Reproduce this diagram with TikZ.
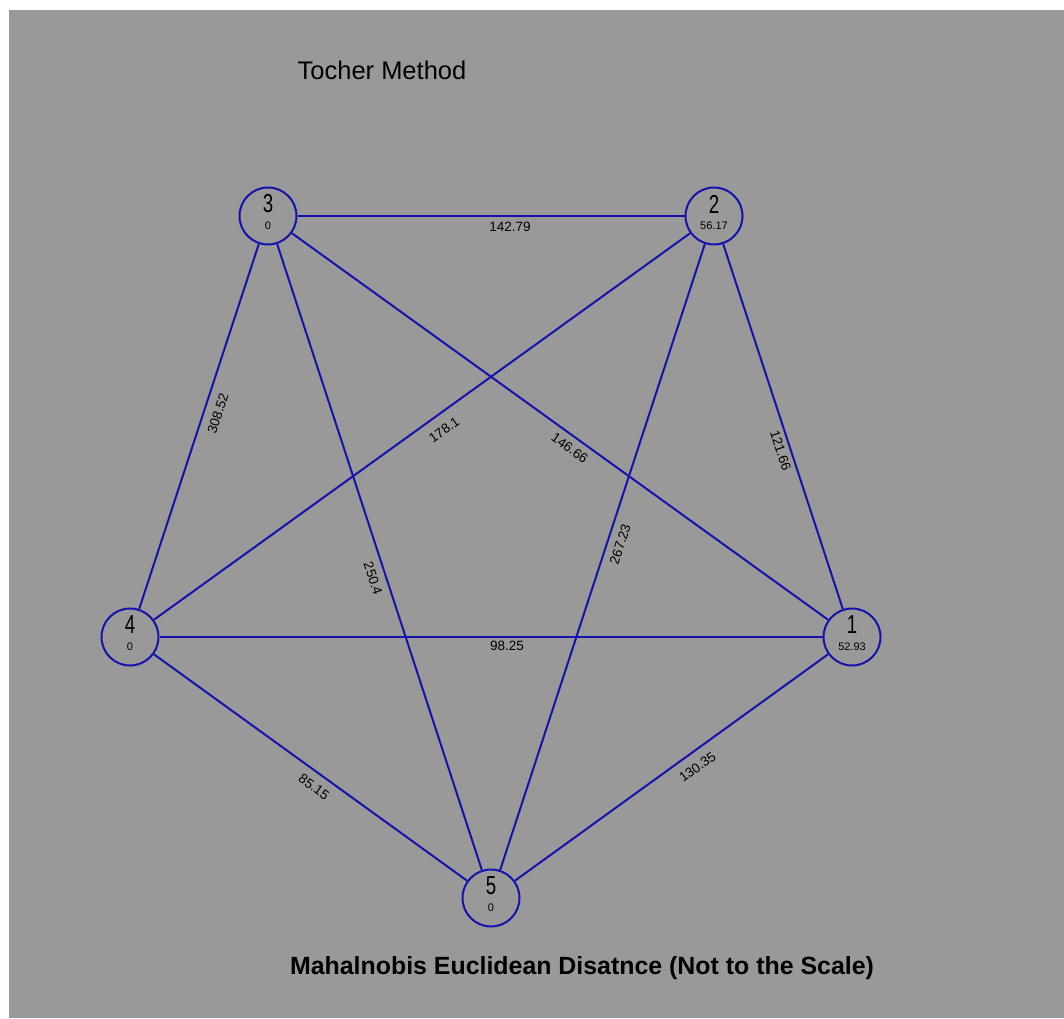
\documentclass[tikz,border=0pt]{standalone}
\usepackage{fontspec}
\usepackage{graphicx}
\setmainfont{Liberation Sans}
\definecolor{bggray}{RGB}{153,153,153}
\definecolor{edgeblue}{RGB}{20,20,172}
\begin{document}
\begin{tikzpicture}[x=1pt,y=1pt,
  vertex/.style={circle,draw=edgeblue,line width=2pt,minimum size=57pt,inner sep=0pt},
  numlab/.style={inner sep=0pt,font=\fontsize{26}{26}\selectfont},
  vallab/.style={inner sep=0pt,font=\fontsize{11}{11}\selectfont},
  edge/.style={draw=edgeblue,line width=2pt},
  elab/.style={sloped,below,inner sep=6pt,font=\fontsize{13.5}{13.5}\selectfont}]
\useasboundingbox (0,0) rectangle (1064,1018);
\fill[white] (0,0) rectangle (1064,1018);
\fill[bggray] (9,0) rectangle (1064,1008);
% vertices
\node[vertex] (n3) at (268,802) {};
\node[vertex] (n2) at (714,802) {};
\node[vertex] (n4) at (130,381) {};
\node[vertex] (n1) at (852,381) {};
\node[vertex] (n5) at (491,120) {};
\foreach \n/\a/\b in {n3/3/0,n2/2/56.17,n4/4/0,n1/1/52.93,n5/5/0}{
  \node[numlab] (\n a) at ([yshift=12pt]\n.center) {\scalebox{0.72}[1]{\a}};
  \node[vallab] (\n b) at ([yshift=-10pt]\n.center) {\b};
}
% edges
\draw[edge] (n3) -- node[elab,pos=0.549,inner sep=5.5pt] (l32) {142.79} (n2);
\draw[edge] (n4) -- node[elab,pos=0.548,inner sep=8pt] (l43) {308.52} (n3);
\draw[edge] (n4) -- node[elab,pos=0.524,inner sep=10pt] (l42) {178.1} (n2);
\draw[edge] (n3) -- node[elab,pos=0.531,inner sep=6pt] (l31) {146.66} (n1);
\draw[edge] (n2) -- node[elab,pos=0.558,inner sep=4pt] (l21) {121.66} (n1);
\draw[edge] (n5) -- node[elab,pos=0.527,inner sep=7pt] (l52) {267.23} (n2);
\draw[edge] (n3) -- node[elab,pos=0.528,inner sep=7pt] (l35) {250.4} (n5);
\draw[edge] (n4) -- node[elab,pos=0.524,inner sep=3.5pt] (l41) {98.25} (n1);
\draw[edge] (n4) -- node[elab,pos=0.537,inner sep=8pt] (l45) {85.15} (n5);
\draw[edge] (n5) -- node[elab,pos=0.555,inner sep=9pt] (l51) {130.35} (n1);
% titles
\node[font=\fontsize{25.5}{25.5}\selectfont,inner sep=0pt] (title) at (382,948) {Tocher Method};
\node[font=\bfseries\fontsize{24.9}{24.9}\selectfont,inner sep=0pt] (caption) at (582,50) {Mahalnobis Euclidean Disatnce (Not to the Scale)};
\end{tikzpicture}
\end{document}
